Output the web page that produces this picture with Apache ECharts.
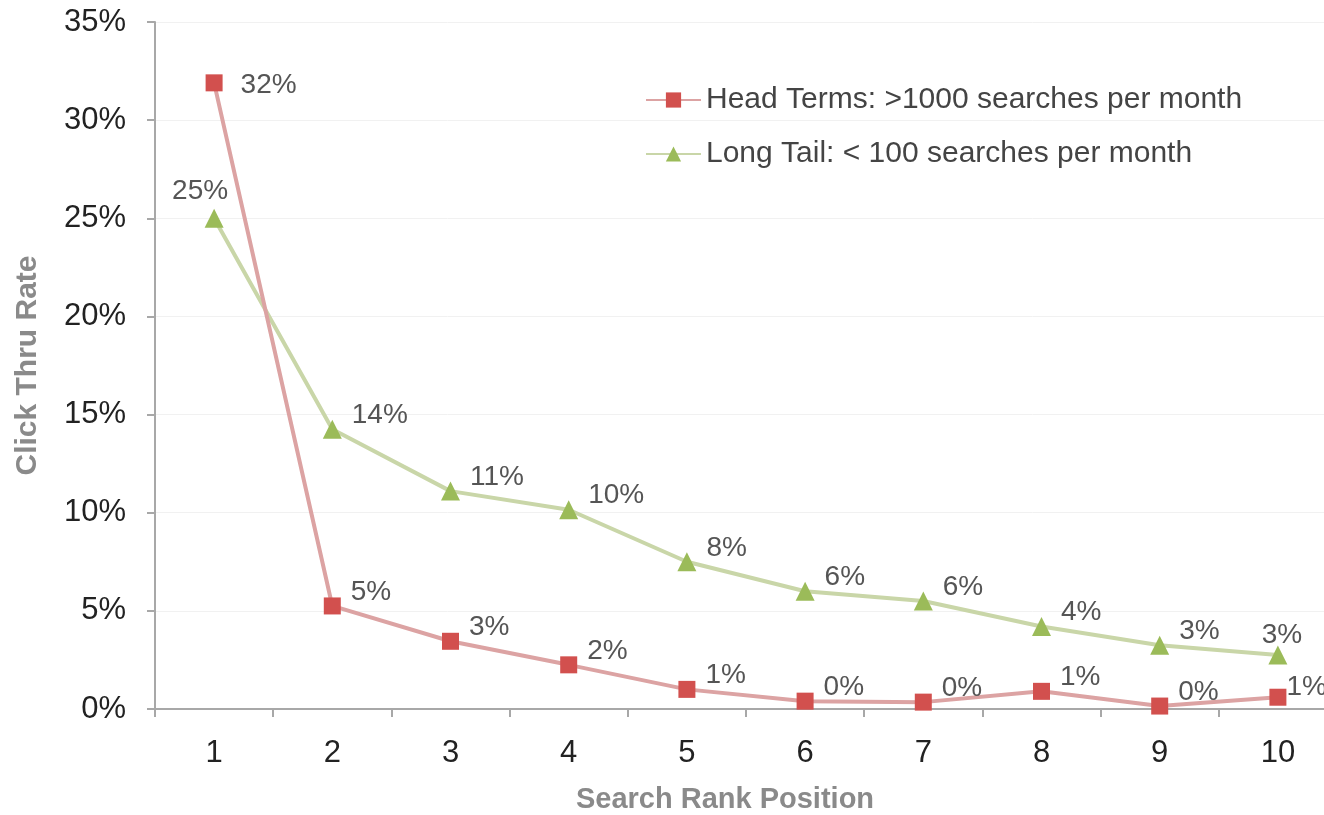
<!DOCTYPE html>
<html><head><meta charset="utf-8">
<script src="https://cdn.jsdelivr.net/npm/echarts@6/dist/echarts.min.js"></script>
<style>html,body{margin:0;padding:0;background:#fff}#c{width:1324px;height:815px}</style>
</head><body><div id="c"></div>
<script>
const categories = ['1','2','3','4','5','6','7','8','9','10'];
const headTerms = [31.9, 5.25, 3.45, 2.25, 1.0, 0.4, 0.35, 0.9, 0.15, 0.6];
const longTail = [25.0, 14.25, 11.1, 10.15, 7.5, 6.0, 5.5, 4.2, 3.25, 2.75];
const seriesNames = ['Head Terms: >1000 searches per month', 'Long Tail: < 100 searches per month'];

const FONT = '"Liberation Sans", Arial, Helvetica, sans-serif';
const chart = echarts.init(document.getElementById('c'));
const lblBase = {show: true, position: 'right', distance: 10, offset: [0, -14], color: '#555', fontSize: 28, fontFamily: FONT,
  formatter: p => Math.round(p.value) + '%'};

function withLabels(vals, overrides) {
  return vals.map((v, i) => overrides[i] ? {value: v, label: overrides[i]} : v);
}

chart.setOption({
  animation: false,
  grid: {left: 155, right: -13, top: 22, bottom: 106, outerBoundsMode: 'none', containLabel: false},
  legend: {
    orient: 'vertical', left: 640, top: 80, itemGap: 24, itemWidth: 55, itemHeight: 19,
    textStyle: {fontSize: 30, color: '#444', fontFamily: FONT},
    data: seriesNames
  },
  xAxis: {
    type: 'category', data: categories, boundaryGap: true,
    name: 'Search Rank Position', nameLocation: 'middle', nameGap: 76,
    nameTextStyle: {fontSize: 29, fontWeight: 'bold', color: '#8a8a8a', fontFamily: FONT, padding: [0, 42, 0, 0]},
    axisLine: {lineStyle: {color: '#a8a8a8', width: 2}},
    axisTick: {show: true, length: 8, lineStyle: {color: '#a8a8a8', width: 2}},
    axisLabel: {fontSize: 31, color: '#222', margin: 29, fontFamily: FONT},
    splitLine: {show: false}
  },
  yAxis: {
    type: 'value', min: 0, max: 35, interval: 5,
    name: 'Click Thru Rate', nameLocation: 'middle', nameGap: 112,
    nameTextStyle: {fontSize: 30, fontWeight: 'bold', color: '#8a8a8a', fontFamily: FONT},
    axisLine: {show: true, lineStyle: {color: '#a8a8a8', width: 2}},
    axisTick: {show: true, length: 8, lineStyle: {color: '#a8a8a8', width: 2}},
    axisLabel: {fontSize: 31, color: '#222', margin: 29, fontFamily: FONT, formatter: '{value}%'},
    splitLine: {show: true, lineStyle: {color: '#f1f1f1', width: 1}}
  },
  series: [
    {
      name: seriesNames[0], type: 'line', data: withLabels(headTerms, {0: {offset: [8, 2]}, 9: {offset: [-10, -10]}}),
      symbol: 'rect', symbolSize: 17,
      itemStyle: {color: '#d2504e'},
      lineStyle: {color: '#dca3a3', width: 4},
      label: lblBase, z: 3
    },
    {
      name: seriesNames[1], type: 'line',
      data: withLabels(longTail, {0: {position: 'top', distance: 6, offset: [-14, 2]}, 9: {position: 'top', distance: 4, offset: [4, 8]}}),
      symbol: 'triangle', symbolSize: 19,
      itemStyle: {color: '#9bbb59'},
      lineStyle: {color: '#c9d6a8', width: 4},
      label: lblBase, z: 2
    }
  ]
});
</script></body></html>
